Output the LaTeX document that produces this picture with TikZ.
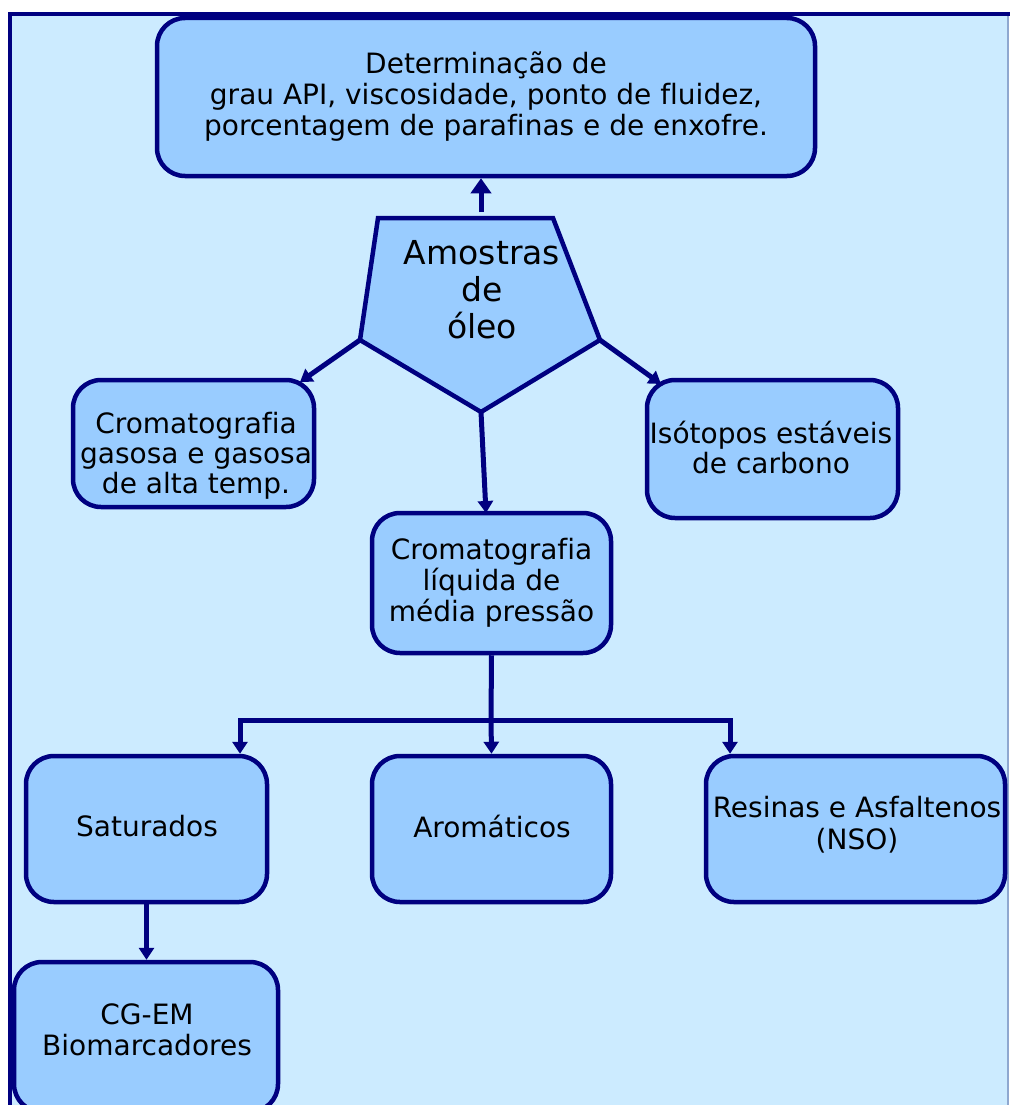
\documentclass[tikz,border=0pt]{standalone}
\usepackage{fontspec}
\setmainfont[Ligatures=NoCommon]{DejaVu Sans}
\usetikzlibrary{arrows.meta}
\definecolor{navy}{HTML}{000080}
\definecolor{boxfill}{HTML}{99CCFF}
\definecolor{panel}{HTML}{CCEBFF}
\definecolor{edge}{HTML}{8FA8D0}
\begin{document}
\begin{tikzpicture}[x=1pt,y=-1pt,
  box/.style={draw=navy,fill=boxfill,line width=4.5pt,rounded corners=28pt,
    align=center,inner sep=0pt,font=\fontsize{28}{31}\selectfont},
  caption/.style={align=center,inner sep=0pt,font=\fontsize{28}{30}\selectfont},
  link/.style={draw=navy,line width=5pt},
  tip/.style={-{Triangle[length=12pt,width=15pt]}},
  bigtip/.style={-{Triangle[length=15pt,width=20pt]}}]
% page and panel
\useasboundingbox (0,0) rectangle (1010,1105);
\fill[panel] (10,14) rectangle (1008,1105);
\draw[edge,line width=1.5pt] (1008,14) -- (1008,1105);
\draw[navy,line width=4.5pt] (10,1105) -- (10,14) -- (1010,14);
% boxes
\node[box,minimum width=658pt,minimum height=158pt] (api) at (486,97)
  {\fontsize{28}{33}\selectfont Determinação de\\grau API, viscosidade, ponto de fluidez,\\porcentagem de parafinas e de enxofre.};
\node[box,minimum width=241pt,minimum height=127pt] (cg) at (193.5,443.5) {};
\node[caption] (cgText) at (196,456) {Cromatografia\\gasosa e gasosa\\de alta temp.};
\node[box,minimum width=251pt,minimum height=138pt] (iso) at (772.5,449) {};
\node[caption] (isoText) at (771,447) {Isótopos estáveis\\de carbono};
\node[box,minimum width=239pt,minimum height=140pt] (lc) at (491.5,583)
  {Cromatografia\\líquida de\\média pressão};
\node[box,minimum width=241pt,minimum height=146pt] (sat) at (146.5,829) {};
\node[caption] (satText) at (147,826) {Saturados};
\node[box,minimum width=239pt,minimum height=146pt] (aro) at (491.5,829) {};
\node[caption] (aroText) at (492,826) {Aromáticos};
\node[box,minimum width=299pt,minimum height=146pt] (nso) at (855.5,829) {};
\node[caption,font=\fontsize{28}{32}\selectfont] (nsoText) at (857,825) {Resinas e Asfaltenos\\(NSO)};
\node[box,minimum width=264pt,minimum height=150pt] (gcms) at (146,1037) {};
\node[caption,font=\fontsize{28}{31}\selectfont] (gcmsText) at (147,1030) {CG-EM\\Biomarcadores};
% sample pentagon
\coordinate (pTL) at (378,218);
\coordinate (pTR) at (553,218);
\coordinate (pR) at (600,340);
\coordinate (pB) at (481,412);
\coordinate (pL) at (360,340);
\coordinate (pTop) at (481,212);
\filldraw[navy,fill=boxfill,line width=4.5pt,line join=miter]
  (pTL) -- (pTR) -- (pR) -- (pB) -- (pL) -- cycle;
\node[align=center,inner sep=0pt,font=\fontsize{33}{37}\selectfont] (oil) at (482,290)
  {Amostras\\de\\óleo};
% connectors from the samples
\coordinate (cgIn) at (300,382);
\coordinate (isoIn) at (661,384);
\coordinate (lcIn) at (486,513);
\draw[link,bigtip] (pTop) -- (pTop |- api.south);
\draw[link,tip] (pL) -- (cgIn);
\draw[link,tip] (pR) -- (isoIn);
\draw[link,tip] (pB) -- (lcIn);
% fractionation tree
\coordinate (split) at (491,720);
\coordinate (splitL) at (240,720);
\coordinate (splitR) at (730,720);
\draw[link] (lc.south) -- (split);
\draw[link,line cap=rect] (splitL) -- (splitR);
\draw[link,tip] (splitL) -- (splitL |- sat.north);
\draw[link,tip] (split) -- (aro.north);
\draw[link,tip] (splitR) -- (splitR |- nso.north);
\draw[link,tip] (sat.south) -- (sat.south |- gcms.north);
\end{tikzpicture}
\end{document}
